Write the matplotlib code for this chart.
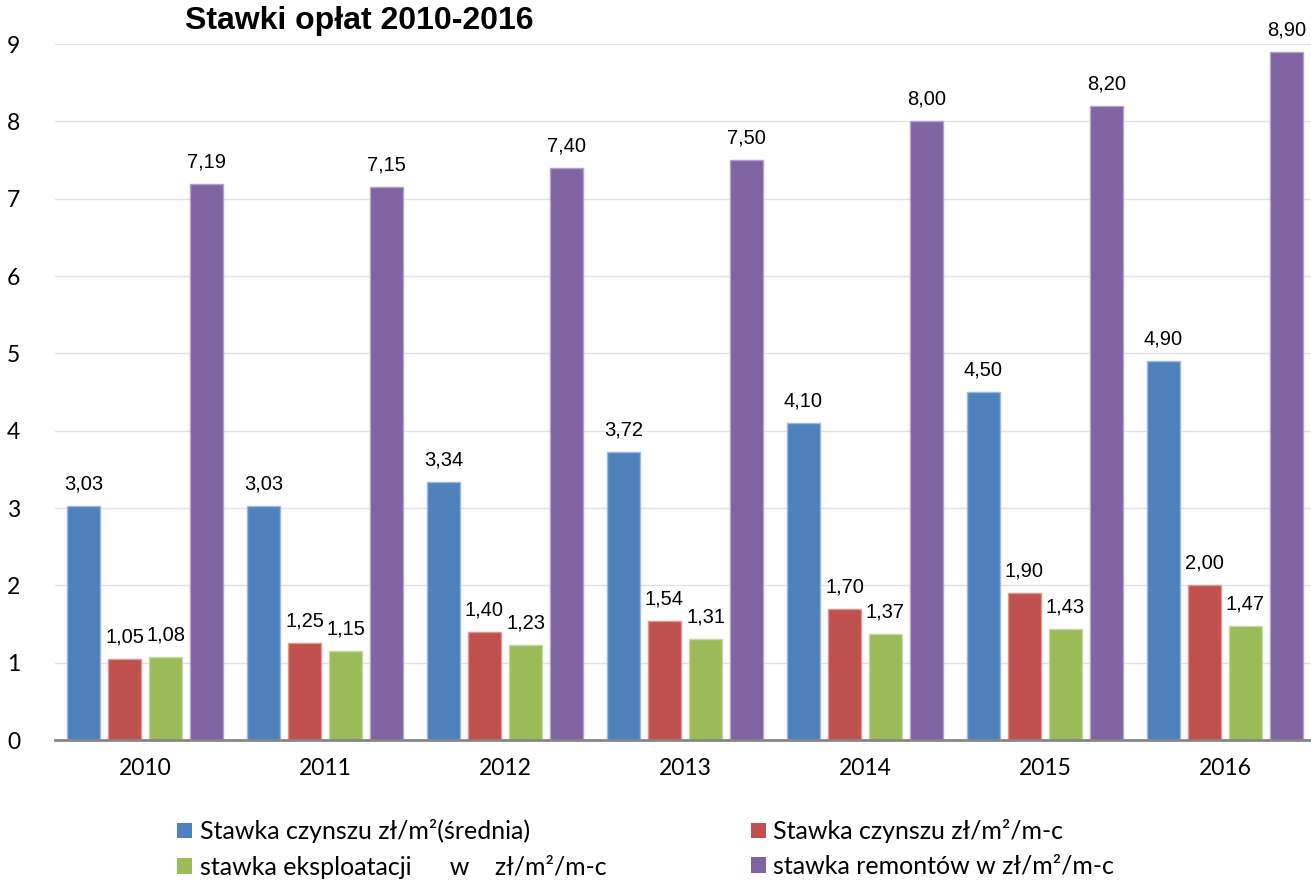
import matplotlib.pyplot as plt
import numpy as np
from matplotlib.patches import Patch

years = ["2010", "2011", "2012", "2013", "2014", "2015", "2016"]
czynsz_sr = [3.03, 3.03, 3.34, 3.72, 4.10, 4.50, 4.90]
czynsz_mc = [1.05, 1.25, 1.40, 1.54, 1.70, 1.90, 2.00]
eksploatacja = [1.08, 1.15, 1.23, 1.31, 1.37, 1.43, 1.47]
remonty = [7.19, 7.15, 7.40, 7.50, 8.00, 8.20, 8.90]

series_labels = [
    "Stawka czynszu zł/m²(średnia)",
    "Stawka czynszu zł/m²/m-c",
    "stawka eksploatacji      w    zł/m²/m-c",
    "stawka remontów w zł/m²/m-c",
]
colors = ["#4F81BD", "#C0504D", "#9BBB59", "#8064A2"]
edges = ["#9DB9DD", "#DC9694", "#C6D8A3", "#B3A2C8"]

tick_font = "Lato"
label_font = "Liberation Sans"

fig = plt.figure(figsize=(13.11, 8.81), dpi=100)
ax = fig.add_axes([0.042, 0.160, 0.961, 0.790])

x = np.arange(len(years))
pitch = 0.228
width = 0.183
all_series = [czynsz_sr, czynsz_mc, eksploatacja, remonty]
for i, vals in enumerate(all_series):
    pos = x + (i - 1.5) * pitch
    bars = ax.bar(pos, vals, width, color=colors[i], edgecolor=edges[i],
                  linewidth=1, zorder=3)
    for b, v in zip(bars, vals):
        ax.annotate(f"{v:.2f}".replace(".", ","),
                    (b.get_x() + b.get_width() / 2, v),
                    xytext=(0, 9), textcoords="offset points",
                    ha="center", va="bottom", fontsize=14.5,
                    family=label_font, color="#000000")

ax.set_xlim(-0.5, len(years) - 0.5)
ax.set_ylim(0, 9)
ax.set_yticks(range(0, 10))
ax.set_xticks(x)
ax.set_xticklabels(years)
ax.tick_params(axis="both", length=0, labelsize=16.5)
ax.tick_params(axis="y", pad=25)
ax.tick_params(axis="x", pad=13)
for lab in ax.get_xticklabels() + ax.get_yticklabels():
    lab.set_family(tick_font)

ax.grid(axis="y", color="#E3E3E3", linewidth=1, zorder=0)
for s in ["top", "right", "left"]:
    ax.spines[s].set_visible(False)
ax.spines["bottom"].set_color("#868686")
ax.spines["bottom"].set_linewidth(2)
ax.spines["bottom"].set_zorder(4)

fig.text(0.274, 0.976, "Stawki opłat 2010-2016", ha="center", va="center",
         fontsize=23, fontweight="bold", family=label_font)

handles = [Patch(facecolor=c) for c in colors]
order = [0, 2, 1, 3]
fig.legend([handles[i] for i in order], [series_labels[i] for i in order],
           ncol=2, loc="lower left", bbox_to_anchor=(0.120, -0.02, 0.745, 0.09),
           mode="expand", frameon=False, handlelength=0.6, handleheight=0.6,
           handletextpad=0.3, labelspacing=0.45, borderpad=0.3,
           prop={"family": tick_font, "size": 18})

fig.savefig("out.png", dpi=100)
